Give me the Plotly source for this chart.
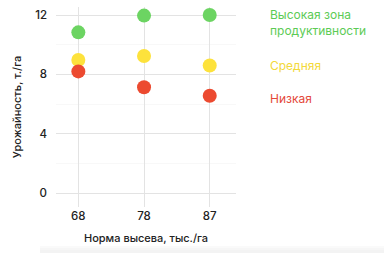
import plotly.graph_objects as go

categories = ["68", "78", "87"]
high = [10.83, 11.96, 12.0]
medium = [8.97, 9.24, 8.6]
low = [8.2, 7.13, 6.56]

series_names = ["Высокая зона<br>продуктивности", "Средняя", "Низкая"]
colors = ["#6cd462", "#fde23c", "#ec4a30"]
text_colors = ["#5ccb55", "#f3d93a", "#e4483a"]
y_ticks = [0, 4, 8, 12]

fig = go.Figure()
for vals, col, name in zip([high, medium, low], colors, series_names):
    fig.add_trace(go.Scatter(
        x=categories, y=vals, mode="markers",
        marker=dict(size=14, color=col, line=dict(width=0)),
        name=name, showlegend=False, cliponaxis=False,
    ))

ann = [
    dict(text=series_names[0], color=text_colors[0], y=22.5),
    dict(text=series_names[1], color=text_colors[1], y=66),
    dict(text=series_names[2], color=text_colors[2], y=98),
]
for a in ann:
    fig.add_annotation(
        xref="paper", yref="paper", x=(268 - 56) / 180, xanchor="left",
        y=1 - (a["y"] - 7) / 200, yanchor="middle",
        text=a["text"], showarrow=False, align="left",
        font=dict(family="Inter", size=12, color=a["color"], weight=400),
    )

# bottom card shadow
for i, c in enumerate(["#fafafa", "#f6f6f6", "#f3f3f3"]):
    fig.add_shape(type="rect", xref="paper", yref="paper",
                  x0=(40 - 56) / 180, x1=(384 - 56) / 180,
                  y0=1 - (246 + i * 2 - 7) / 200, y1=1 - (260 - 7) / 200,
                  fillcolor=c, line=dict(width=0), layer="below")

fig.update_layout(
    width=384, height=253,
    margin=dict(l=56, r=148, t=7, b=46),
    paper_bgcolor="white", plot_bgcolor="white",
    font=dict(family="Inter", size=11, color="#222"),
    xaxis=dict(
        type="category", range=[-0.34, 2.4],
        showgrid=True, gridcolor="#e3e3e3", gridwidth=1,
        zeroline=False, showline=False, ticks="",
        tickfont=dict(size=11.5, color="#222", weight=500),
        title=dict(text="Норма высева, тыс./га", standoff=12,
                   font=dict(size=11, color="#222", weight=500)),
    ),
    yaxis=dict(
        range=[-0.94, 12.54], tickvals=y_ticks,
        showgrid=True, gridcolor="#e3e3e3", gridwidth=1,
        minor=dict(dtick=2, showgrid=True, gridcolor="#f8f8f8"),
        zeroline=False, showline=False, ticks="",
        ticklabelstandoff=8,
        tickfont=dict(size=11.5, color="#222", weight=500),
        title=dict(text="Урожайность, т./га", standoff=11,
                   font=dict(size=11, color="#222", weight=500)),
    ),
)

fig.write_html("out.html")
